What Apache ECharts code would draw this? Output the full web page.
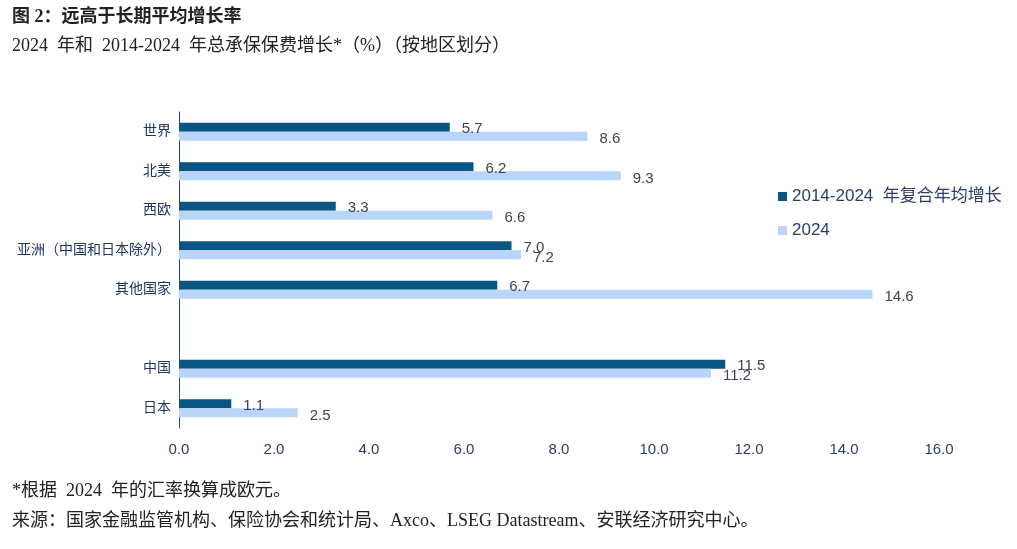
<!DOCTYPE html>
<html><head><meta charset="utf-8">
<script src="https://cdn.jsdelivr.net/npm/echarts@6/dist/echarts.min.js"></script>
<style>html,body{margin:0;padding:0;background:#fff;}#c{width:1017px;height:549px;}</style>
</head><body><div id="c"></div>
<script>
const categories = ['世界','北美','西欧','亚洲（中国和日本除外）','其他国家','','中国','日本'];
const cagr = [5.7, 6.2, 3.3, 7.0, 6.7, null, 11.5, 1.1];
const y2024 = [8.6, 9.3, 6.6, 7.2, 14.6, null, 11.2, 2.5];
const seriesNames = ['2014-2024  年复合年均增长', '2024'];
const xTicks = [0, 2, 4, 6, 8, 10, 12, 14, 16];

const serif = '"Liberation Serif","Noto Sans CJK SC",serif';
const narrow = '"Liberation Sans Narrow","Liberation Sans","Noto Sans CJK SC",sans-serif';
const chart = echarts.init(document.getElementById('c'));
chart.setOption({
  animation: false,
  backgroundColor: '#fff',
  graphic: [
    {type:'text', left: 12, top: 8, style:{text:'图 2：远高于长期平均增长率', font:'bold 18px '+serif, fill:'#222'}},
    {type:'text', left: 12, top: 37, style:{text:'2024  年和  2014-2024  年总承保保费增长*（%）（按地区划分）', font:'18px '+serif, fill:'#222'}},
    {type:'text', left: 12, top: 482, style:{text:'*根据  2024  年的汇率换算成欧元。', font:'18px '+serif, fill:'#222'}},
    {type:'text', left: 12, top: 512, style:{text:'来源：国家金融监管机构、保险协会和统计局、Axco、LSEG Datastream、安联经济研究中心。', font:'18px '+serif, fill:'#222'}}
  ],
  legend: {
    orient: 'vertical', left: 773, top: 183, itemWidth: 9, itemHeight: 9, itemGap: 17,
    icon: 'rect',
    textStyle: {fontSize: 17, color: '#2a3f66', fontFamily: narrow},
    data: seriesNames
  },
  grid: {left: 179, right: 78, top: 112, bottom: 121},
  xAxis: {
    type: 'value', min: 0, max: 16, interval: 2,
    axisLine: {show: false}, axisTick: {show: false}, splitLine: {show: false},
    axisLabel: {formatter: v => v.toFixed(1), fontSize: 15, color: '#2a3f66', fontFamily: narrow, margin: 14}
  },
  yAxis: {
    type: 'category', data: categories, inverse: true,
    axisLine: {show: true, lineStyle: {color: '#1f4e79', width: 1}},
    axisTick: {show: false},
    axisLabel: {fontSize: 14, color: '#1f3560', fontFamily: serif, margin: 8}
  },
  series: [
    {name: seriesNames[0], type: 'bar', data: cagr, barWidth: 9, barGap: '0%',
     itemStyle: {color: '#0b5583'},
     label: {show: true, position: 'right', distance: 12, offset: [0, 2], formatter: p => p.value.toFixed(1), fontSize: 15, color: '#3c4257', fontFamily: narrow}},
    {name: seriesNames[1], type: 'bar', data: y2024, barWidth: 9,
     itemStyle: {color: '#b9d5fa'},
     label: {show: true, position: 'right', distance: 12, offset: [0, 3], formatter: p => p.value.toFixed(1), fontSize: 15, color: '#3c4257', fontFamily: narrow}}
  ]
});
</script></body></html>
